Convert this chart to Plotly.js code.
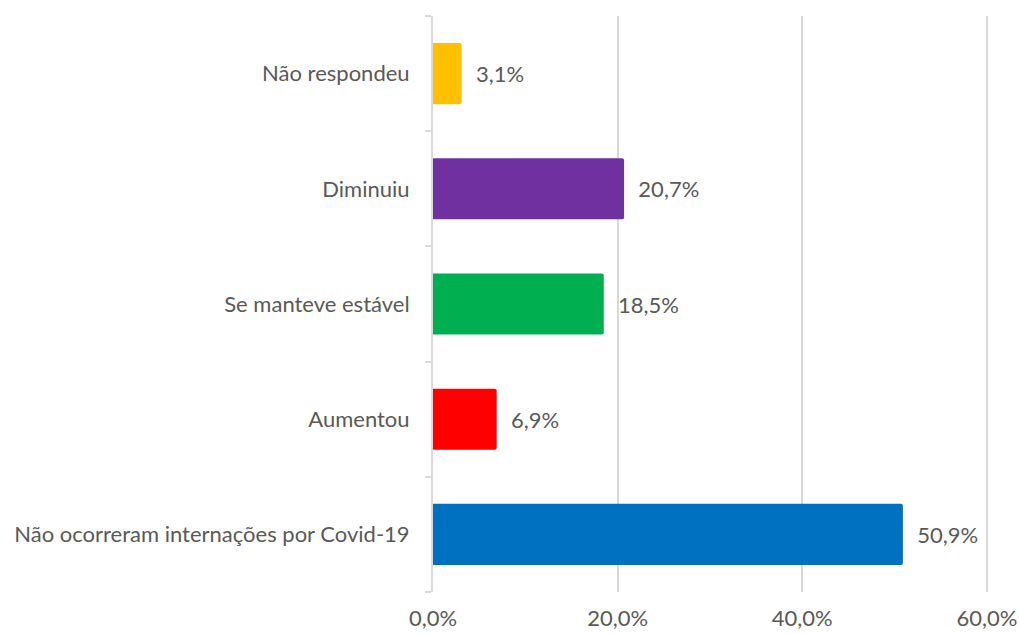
<!DOCTYPE html>
<html>
<head>
<meta charset="utf-8">
<script src="https://cdn.plot.ly/plotly-3.0.1.min.js"></script>
<style>html,body{margin:0;padding:0;background:#fff;}#chart{width:1019px;height:634px;}</style>
</head>
<body>
<div id="chart"></div>
<script>
const categories = ["Não ocorreram internações por Covid-19", "Aumentou", "Se manteve estável", "Diminuiu", "Não respondeu"];
const values = [50.9, 6.9, 18.5, 20.7, 3.1];
const colors = ["#0070C0", "#FF0000", "#00B050", "#7030A0", "#FFC000"];
const xTickValues = [0, 20, 40, 60];
const xTickText = ["0,0%", "20,0%", "40,0%", "60,0%"];

const trace = {
  type: "bar",
  orientation: "h",
  y: categories,
  x: values,
  marker: {color: colors, cornerradius: 2},
  width: 0.53,
  texttemplate: "  %{x:.1f}%",
  textposition: "outside",
  cliponaxis: false,
  textfont: {family: "Lato, 'Open Sans', sans-serif", size: 22, color: "#595959"},
  hoverinfo: "skip"
};

const layout = {
  width: 1019, height: 634,
  margin: {l: 433, r: 31, t: 16, b: 42},
  paper_bgcolor: "#fff", plot_bgcolor: "#fff",
  separators: ",.",
  showlegend: false,
  font: {family: "Lato, 'Open Sans', sans-serif", size: 22, color: "#595959"},
  xaxis: {
    range: [0, 60.12],
    tickvals: xTickValues,
    ticktext: xTickText,
    showgrid: true, gridcolor: "#d9d9d9", gridwidth: 2,
    zeroline: false, showline: false, ticks: "",
    ticklabelstandoff: 11,
    fixedrange: true
  },
  yaxis: {
    type: "category",
    showline: true, linecolor: "#d9d9d9", linewidth: 2,
    ticks: "outside", tickson: "boundaries", ticklen: 6, tickcolor: "#d9d9d9", tickwidth: 2,
    showgrid: false, zeroline: false,
    ticklabelstandoff: 17,
    fixedrange: true
  }
};

Plotly.newPlot("chart", [trace], layout, {displayModeBar: false, staticPlot: true});
</script>
</body>
</html>
